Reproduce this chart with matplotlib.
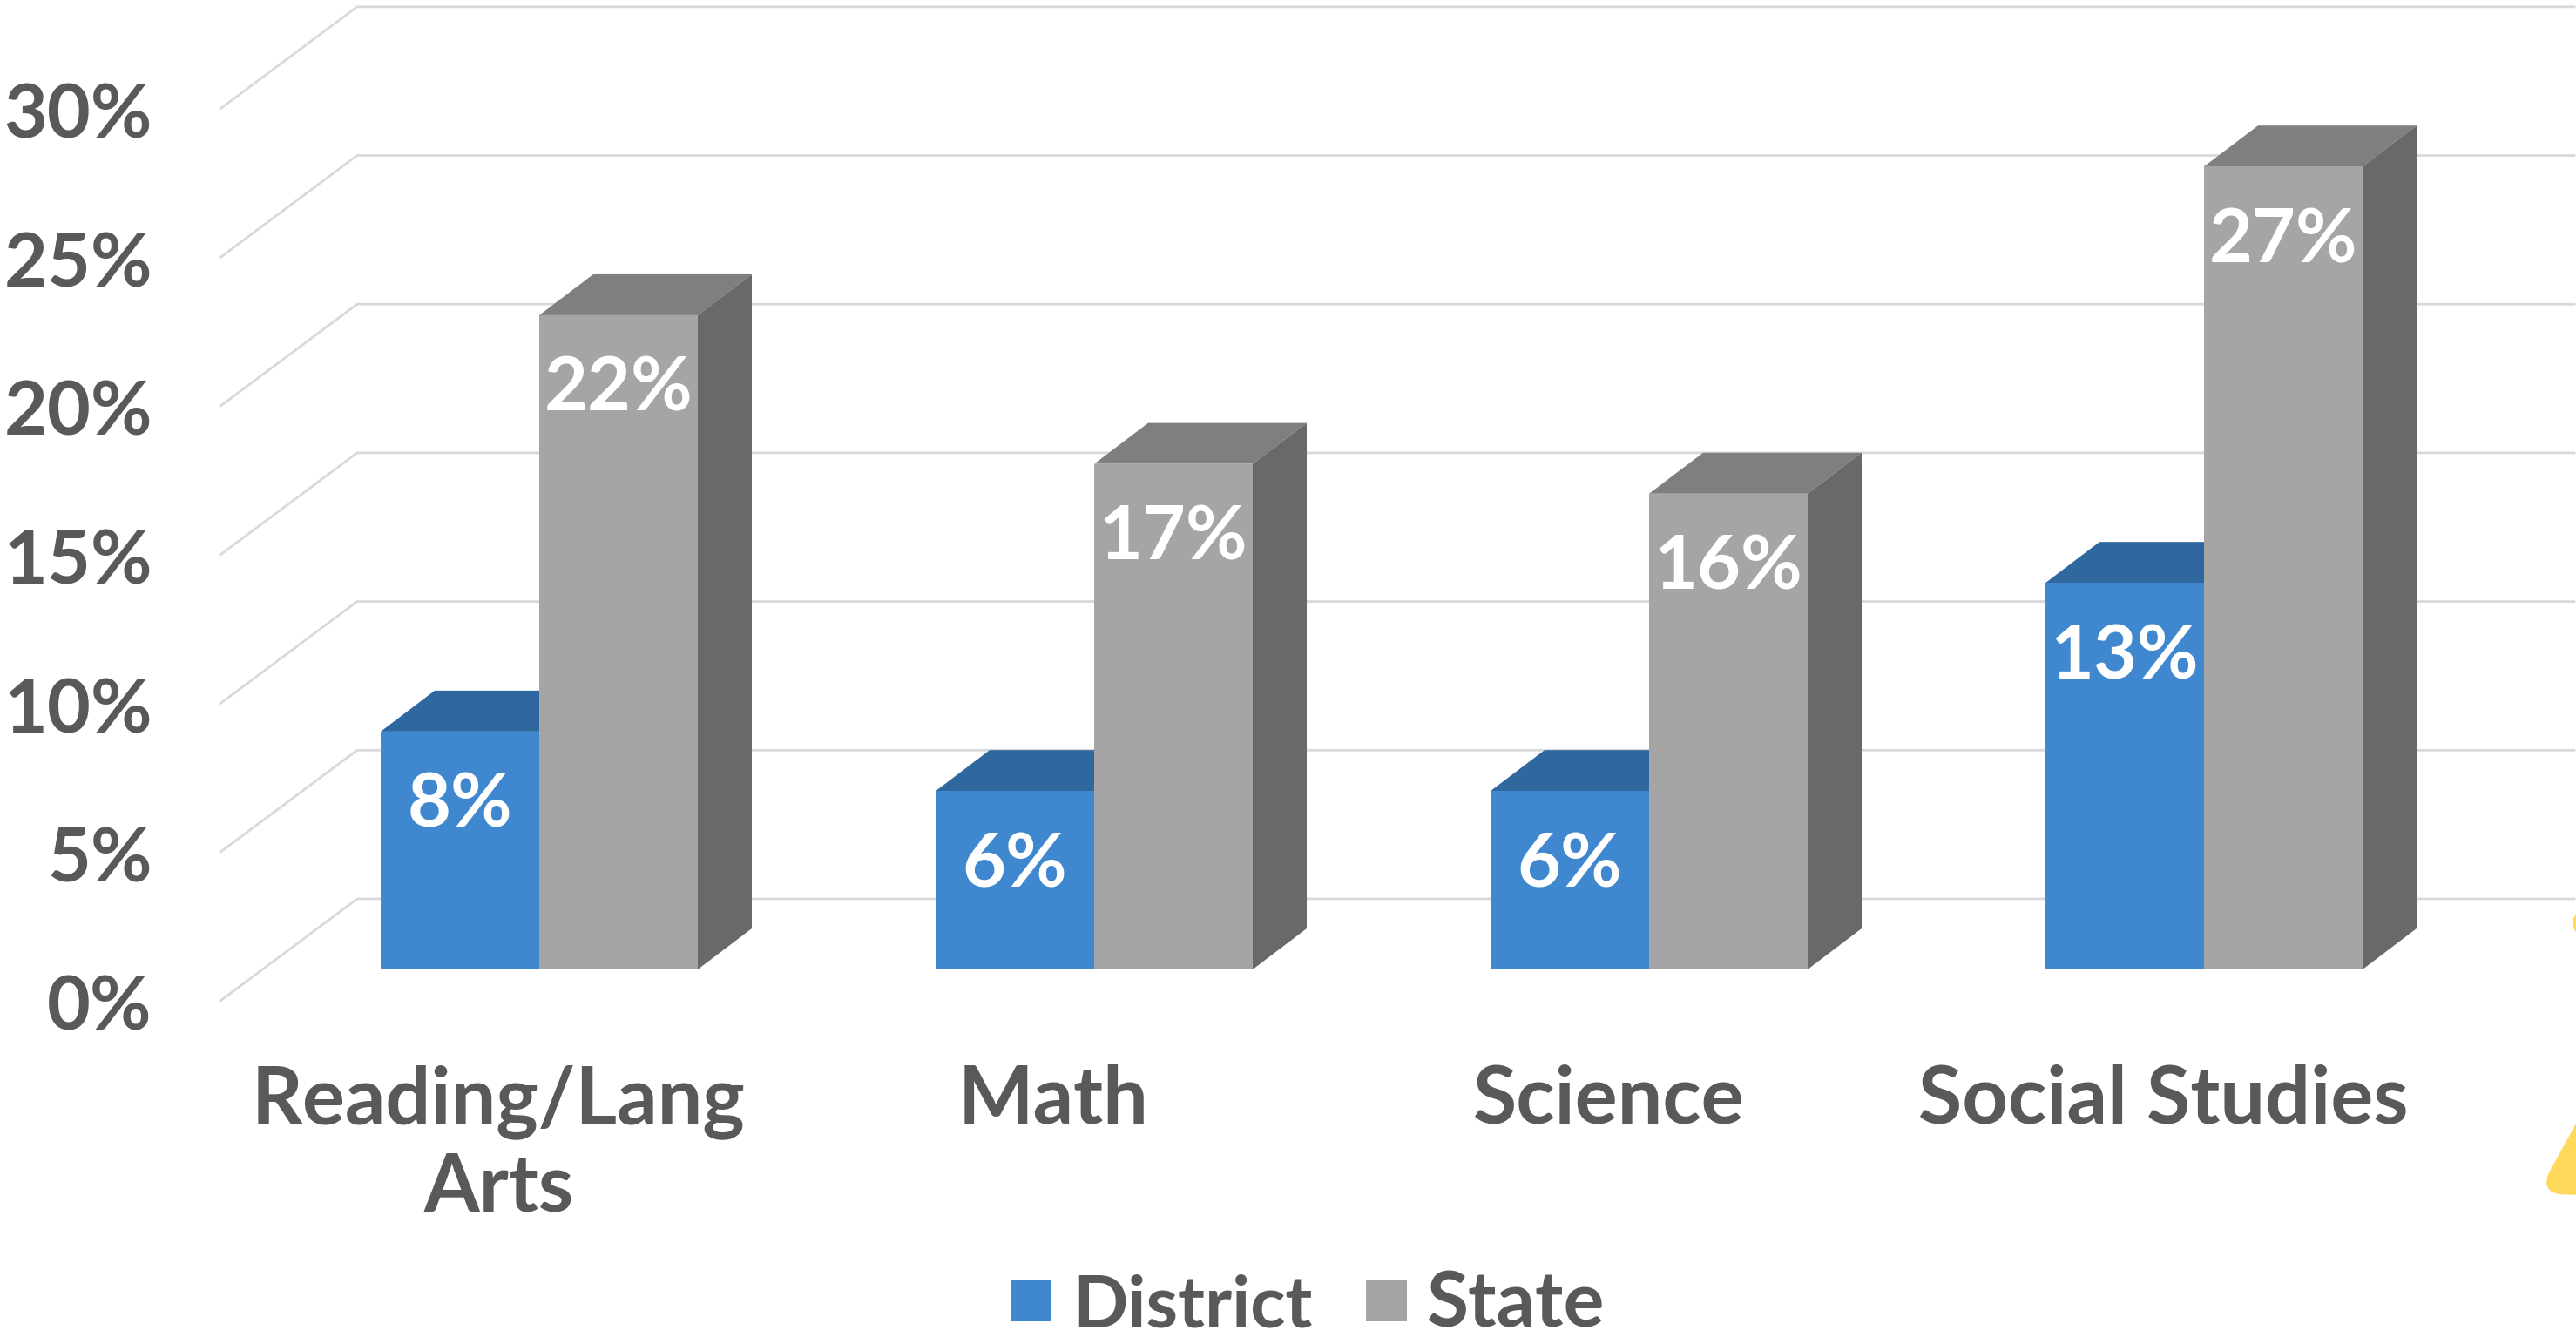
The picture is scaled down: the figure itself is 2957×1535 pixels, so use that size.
import matplotlib
matplotlib.use("Agg")
import matplotlib.pyplot as plt
from matplotlib.patches import Polygon, Rectangle, Circle, PathPatch
from matplotlib.path import Path
from matplotlib.transforms import Affine2D

# ---- data ----
categories = ["Reading/Lang\nArts", "Math", "Science", "Social Studies"]
district = [8, 6, 6, 13]
state = [22, 17, 16, 27]
y_ticks = [0, 5, 10, 15, 20, 25, 30]
series_names = ["District", "State"]

# ---- style ----
W, H = 2957, 1535
PX_PER_CAT, PX_PER_PCT = 637.0, 34.14
X0_PX, Y0_PX = 619.0, 1113.0
BAR_W = 182 / PX_PER_CAT
DX, DY = 62 / PX_PER_CAT, 47 / PX_PER_PCT
TXT = "#595959"
GRID = "#D9D9D9"
BLUE = ("#3F87CF", "#2F689E", "#2A5C8C")
GRAY = ("#A5A5A5", "#7F7F7F", "#696969")
YELLOW = "#FFD95C"
FONT = "Lato"
FS = 62

fig = plt.figure(figsize=(W / 100, H / 100), dpi=100, facecolor="white")
ax = fig.add_axes([0, 0, 1, 1])
ax.set_xlim(-X0_PX / PX_PER_CAT, (W - X0_PX) / PX_PER_CAT)
ax.set_ylim((Y0_PX - H) / PX_PER_PCT, Y0_PX / PX_PER_PCT)
ax.axis("off")

# pixel helpers for placement of non-data elements
xd = lambda px: (px - X0_PX) / PX_PER_CAT
yd = lambda px: (Y0_PX - px) / PX_PER_PCT

# gridlines on the back wall and the left wall
BACK_Y = 81 / PX_PER_PCT
WALL_Y = -36 / PX_PER_PCT
for v in y_ticks:
    ax.plot([xd(253), xd(410), xd(2955)],
            [v + WALL_Y, v + BACK_Y, v + BACK_Y],
            color=GRID, lw=2.0, solid_joinstyle="miter", zorder=1)
    ax.text(xd(175), v + WALL_Y - 0.27, f"{v}%", ha="right", va="center",
            color=TXT, fontsize=FS, family=FONT, fontweight="bold", zorder=6)


def bar3d(xs, vals, cols, z):
    ax.bar(xs, vals, width=BAR_W, color=cols[0], align="edge", zorder=z + 0.2, lw=0)
    for x, v in zip(xs, vals):
        ax.add_patch(Polygon([(x, v), (x + BAR_W, v), (x + BAR_W + DX, v + DY), (x + DX, v + DY)],
                             closed=True, fc=cols[1], lw=0, zorder=z))
        ax.add_patch(Polygon([(x + BAR_W, 0), (x + BAR_W + DX, DY), (x + BAR_W + DX, v + DY), (x + BAR_W, v)],
                             closed=True, fc=cols[2], lw=0, zorder=z + 0.1))


idx = list(range(len(categories)))
x_state = [i for i in idx]
x_dist = [i - BAR_W for i in idx]
bar3d(x_dist, district, BLUE, 2)
bar3d(x_state, state, GRAY, 3)

for xs, vals in ((x_dist, district), (x_state, state)):
    for x, v in zip(xs, vals):
        ax.text(x + BAR_W / 2, v - 2.5, f"{v}%", ha="center", va="center", color="white",
                fontsize=FS, family=FONT, fontweight="bold", zorder=7)

# category labels
for i, c in zip(idx, categories):
    ax.text(i - 0.073, yd(1222), c, ha="center", va="top", color=TXT, fontsize=66,
            family=FONT, fontweight="bold", linespacing=1.22, zorder=6)

# legend
for px, col, name, tx, fs in ((1160, BLUE[0], series_names[0], 1231, 60),
                              (1568, GRAY[0], series_names[1], 1638, 63)):
    ax.add_patch(Rectangle((xd(px), yd(1517)), 47 / PX_PER_CAT, 47 / PX_PER_PCT, fc=col, lw=0, zorder=6))
    ax.text(xd(tx), yd(1523), name, ha="left", va="baseline", color=TXT, fontsize=fs,
            family=FONT, fontweight="bold", zorder=6)

# decorative yellow shapes cut off by the right edge
to_fig = Affine2D().scale(1 / W, -1 / H).translate(0, 1) + fig.transFigure
fig.add_artist(Circle((2968, 1060), 15, fc=YELLOW, lw=0, transform=to_fig))
tri = Path([(2958, 1288), (2925, 1348), (2918, 1368), (2938, 1371), (2958, 1372), (2958, 1288)],
           [Path.MOVETO, Path.LINETO, Path.CURVE3, Path.CURVE3, Path.LINETO, Path.CLOSEPOLY])
fig.add_artist(PathPatch(tri, fc=YELLOW, lw=0, transform=to_fig))

fig.savefig("out.png", dpi=100, facecolor="white")
